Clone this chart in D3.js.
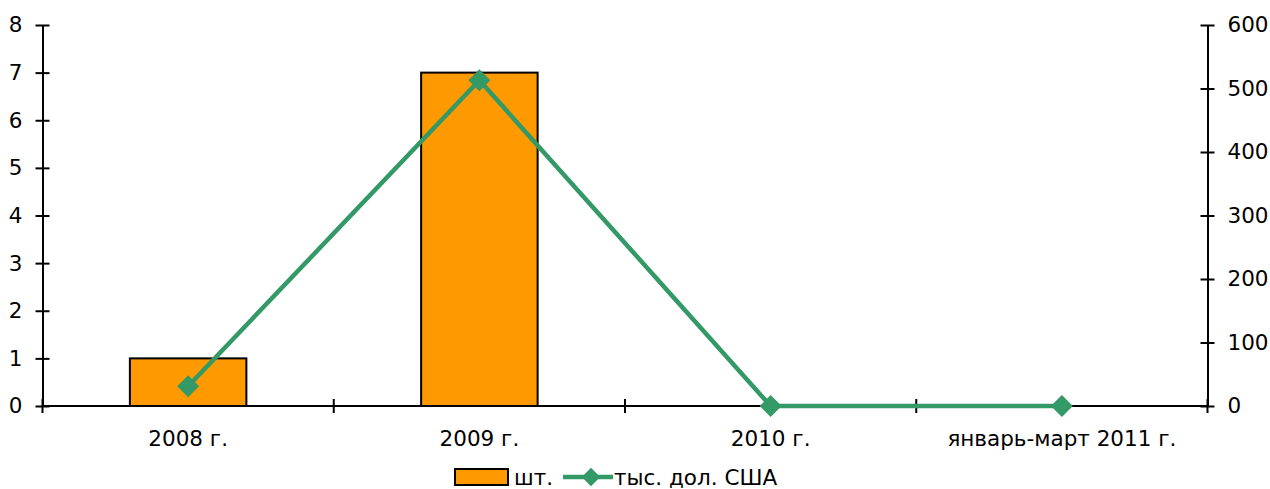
<!DOCTYPE html>
<html><head><meta charset="utf-8">
<script src="https://cdn.jsdelivr.net/npm/d3@7"></script>
<style>body{margin:0;background:#fff}text{font-family:"DejaVu Sans",Verdana,sans-serif;fill:#000}</style>
</head><body><svg id="c" width="1270" height="489"></svg>
<script>
const categories = ["2008 г.", "2009 г.", "2010 г.", "январь-март 2011 г."];
const unitsValues = [1, 7, 0, 0];
const usdValues = [31, 513, 0, 0];
const leftTicks = [0,1,2,3,4,5,6,7,8];
const rightTicks = [0,100,200,300,400,500,600];
const seriesNames = ["шт.", "тыс. дол. США"];

const svg = d3.select("#c");
const x0 = 42.5, x1 = 1207.5, yTop = 25, yBot = 406;
const x = d3.scaleBand().domain(categories).range([x0, x1]).paddingInner(0.6).paddingOuter(0.3);
const xb = d3.scaleBand().domain(categories).range([x0, x1]);
const yL = d3.scaleLinear().domain([0, 8]).range([yBot, yTop]);
const yR = d3.scaleLinear().domain([0, 600]).range([yBot, yTop]);
const fs = 21.5;

// bars
svg.append("g").selectAll("rect").data(categories).join("rect")
  .attr("x", d => x(d)).attr("width", x.bandwidth())
  .attr("y", (d,i) => yL(unitsValues[i])).attr("height", (d,i) => yBot - yL(unitsValues[i]))
  .attr("fill", "#FF9900").attr("stroke", "#000").attr("stroke-width", 2);

// axes
const gL = svg.append("g").attr("transform", `translate(${x0},0)`)
  .call(d3.axisLeft(yL).tickValues(leftTicks).tickSizeInner(7).tickSizeOuter(0).tickPadding(13));
gL.selectAll(".tick line").attr("x2", 7).attr("x1", -7);
const gR = svg.append("g").attr("transform", `translate(${x1},0)`)
  .call(d3.axisRight(yR).tickValues(rightTicks).tickSizeInner(7).tickSizeOuter(0).tickPadding(13));
gR.selectAll(".tick line").attr("x1", -7).attr("x2", 7);
const gX = svg.append("g").attr("transform", `translate(0,${yBot})`)
  .call(d3.axisBottom(xb).tickSize(0).tickPadding(25));
gX.select(".domain").remove();
// boundary ticks
const bounds = categories.map(c => xb(c)).concat([x1]);
svg.append("g").selectAll("line").data(bounds).join("line")
  .attr("x1", d => d).attr("x2", d => d).attr("y1", yBot - 7).attr("y2", yBot + 7)
  .attr("stroke", "#000").attr("stroke-width", 2);
svg.append("line").attr("x1", x0).attr("x2", x1).attr("y1", yBot).attr("y2", yBot)
  .attr("stroke", "#000").attr("stroke-width", 2);
[gL, gR, gX].forEach(g => {
  g.selectAll("path.domain").attr("stroke", "#000").attr("stroke-width", 2);
  g.selectAll(".tick line").attr("stroke", "#000").attr("stroke-width", 2);
  g.selectAll("text").style("font-family", '"DejaVu Sans", Verdana, sans-serif').style("font-size", fs + "px").attr("fill", "#000");
});

// line
const green = "#339966";
const cx = d => xb(d) + xb.bandwidth() / 2;
const line = d3.line().x((d,i) => cx(categories[i])).y(d => yR(d));
svg.append("path").datum(usdValues).attr("d", line).attr("fill", "none")
  .attr("stroke", green).attr("stroke-width", 4.5).attr("stroke-linejoin", "round");
const diamond = d3.symbol().type(d3.symbolSquare).size(242);
svg.append("g").selectAll("path").data(usdValues).join("path")
  .attr("d", diamond)
  .attr("transform", (d,i) => `translate(${cx(categories[i])},${yR(d)}) rotate(45)`)
  .attr("fill", green);

// legend
const lg = svg.append("g");
lg.append("rect").attr("x", 455).attr("y", 469).attr("width", 53).attr("height", 16)
  .attr("fill", "#FF9900").attr("stroke", "#000").attr("stroke-width", 2);
lg.append("text").attr("x", 514).attr("y", 485).style("font-size", fs + "px").text(seriesNames[0]);
lg.append("line").attr("x1", 563).attr("x2", 613).attr("y1", 477).attr("y2", 477)
  .attr("stroke", green).attr("stroke-width", 4.5);
lg.append("path").attr("d", d3.symbol().type(d3.symbolSquare).size(170)()).attr("transform", "translate(591,477) rotate(45)").attr("fill", green);
lg.append("text").attr("x", 614).attr("y", 485).style("font-size", fs + "px").text(seriesNames[1]);
</script></body></html>
